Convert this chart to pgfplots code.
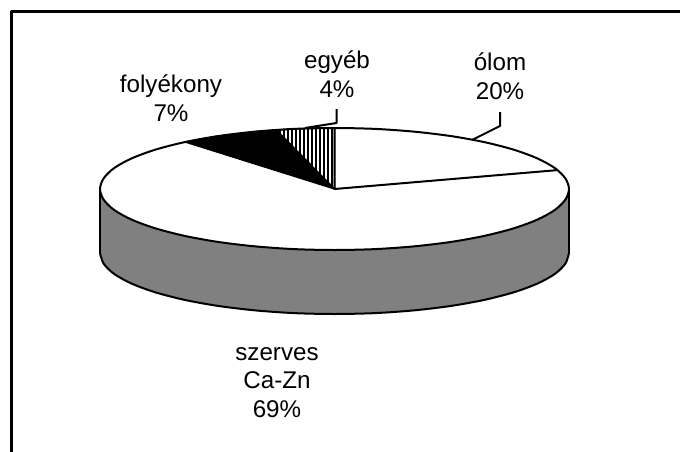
\documentclass[border=0pt]{standalone}
\usepackage{pgfplots}
\pgfplotsset{compat=1.18}
\usepackage{fontspec}
\setmainfont{Liberation Sans}
\usetikzlibrary{patterns.meta}
\definecolor{sidegray}{HTML}{808080}
\tikzset{lab/.style={font=\fontsize{18.2}{21.6}\selectfont, align=center, text=black, inner sep=0pt}}
\begin{document}
\begin{tikzpicture}
\begin{axis}[
  scale only axis, width=510bp, height=339bp,
  xmin=0, xmax=680, ymin=0, ymax=452, y dir=reverse,
  axis lines=none, ticks=none,
  line join=round,
]
% page extent
\addplot[draw=none, no marks] coordinates {(0,0) (680,452)};
% frame
\addplot[black, line width=2bp, no marks] coordinates {(11.5,452) (11.5,11.5) (680,11.5)};
% side wall
\addplot[fill=sidegray, draw=none, no marks] coordinates {
 (100,189) (100,253) (103.6,263.6) (114.1,273.9) (131.4,283.5) (154.9,292.2) (183.8,299.7)
 (217.2,305.8) (254.3,310.3) (293.8,313.1) (334.5,314) (375.2,313.1) (414.7,310.3) (451.8,305.8)
 (485.2,299.7) (514.1,292.2) (537.6,283.5) (554.9,273.9) (565.4,263.6) (569,253) (569,189)};
\addplot[black, line width=1.5bp, smooth, no marks] coordinates {
 (100,253) (103.6,263.6) (114.1,273.9) (131.4,283.5) (154.9,292.2) (183.8,299.7)
 (217.2,305.8) (254.3,310.3) (293.8,313.1) (334.5,314) (375.2,313.1) (414.7,310.3) (451.8,305.8)
 (485.2,299.7) (514.1,292.2) (537.6,283.5) (554.9,273.9) (565.4,263.6) (569,253)};
\addplot[black, line width=1.5bp, no marks] coordinates {(100,189) (100,253)};
\addplot[black, line width=1.5bp, no marks] coordinates {(569,189) (569,253)};
% top ellipse
\addplot[fill=white, draw=black, line width=1.5bp, smooth cycle, no marks] coordinates {
 (569,189) (565.4,178.4) (554.9,168.1) (537.6,158.5) (514.1,149.8) (485.2,142.3) (451.8,136.2)
 (414.7,131.7) (375.2,128.9) (334.5,128) (293.8,128.9) (254.3,131.7) (217.2,136.2) (183.8,142.3)
 (154.9,149.8) (131.4,158.5) (114.1,168.1) (103.6,178.4) (100,189) (103.6,199.6) (114.1,209.9)
 (131.4,219.5) (154.9,228.2) (183.8,235.7) (217.2,241.8) (254.3,246.3) (293.8,249.1) (334.5,250)
 (375.2,249.1) (414.7,246.3) (451.8,241.8) (485.2,235.7) (514.1,228.2) (537.6,219.5) (554.9,209.9) (565.4,199.6)};
% folyekony 7%
\addplot[fill=black, draw=black, line width=1bp, no marks] coordinates {
 (334.5,189) (276.2,129.9) (254.3,131.7) (217.2,136.2) (185,142) (334.5,189)};
% egyeb 4%
\addplot[pattern={Lines[angle=90,distance=3bp,line width=0.8bp]}, pattern color=black, draw=black, line width=1bp, no marks] coordinates {
 (334.5,189) (334.5,128) (305,128.5) (276.2,129.9) (334.5,189)};
% olom boundary
\addplot[black, line width=1.5bp, no marks] coordinates {(334.5,128) (334.5,189) (557.5,170.1)};
% leaders
\addplot[black, line width=1.5bp, no marks] coordinates {(336.5,109) (336.5,123) (305,128)};
\addplot[black, line width=1.5bp, no marks] coordinates {(500,112) (500,126) (472,140)};
% labels
\node[lab] at (axis cs:500,76) {ólom\\20\%};
\node[lab] at (axis cs:337,74.5) {egyéb\\4\%};
\node[lab] at (axis cs:171,98.5) {folyékony\\7\%};
\node[lab] at (axis cs:277,382.5) {szerves\\Ca-Zn\\69\%};
\end{axis}
\end{tikzpicture}
\end{document}
